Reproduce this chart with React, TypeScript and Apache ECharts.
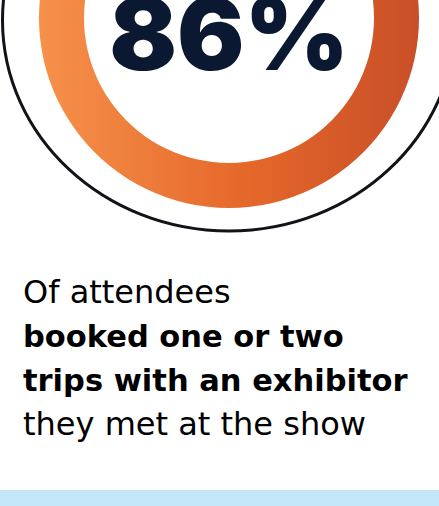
import React, { useEffect, useRef } from "react";
import * as echarts from "echarts";

const percentValue = [86];
const headline = ["86%"];
const captionLines = [
  "Of attendees",
  "booked one or two",
  "trips with an exhibitor",
  "they met at the show",
];
const captionBold = [false, true, true, false];

export default function App() {
  const ref = useRef<HTMLDivElement>(null);
  useEffect(() => {
    document.body.style.margin = "0";
    const chart = echarts.init(ref.current!, null, { renderer: "svg" });
    const v = percentValue[0];
    const baselines = [303, 347, 391, 435];
    chart.setOption({
      animation: false,
      backgroundColor: "#ffffff",
      series: [
        {
          type: "pie",
          center: [229, 18],
          radius: [145, 190],
          startAngle: 90 - ((100 - v) / 100) * 180,
          silent: true,
          label: { show: false },
          labelLine: { show: false },
          data: [
            {
              value: v,
              itemStyle: {
                color: {
                  type: "linear",
                  x: 39,
                  y: 0,
                  x2: 419,
                  y2: 0,
                  global: true,
                  colorStops: [
                    { offset: 0, color: "#F6914A" },
                    { offset: 0.55, color: "#E5672A" },
                    { offset: 1, color: "#C84F28" },
                  ],
                },
              },
            },
            { value: 100 - v, itemStyle: { color: "rgba(0,0,0,0)" } },
          ],
        },
      ],
      graphic: [
        {
          type: "ellipse",
          shape: { cx: 229, cy: 20, rx: 226.5, ry: 211 },
          style: { fill: "none", stroke: "#111318", lineWidth: 3 },
          silent: true,
        },
        {
          type: "text",
          x: 229,
          y: 33,
          style: {
            text: headline[0],
            font: "900 100px Inter",
            fill: "#0B1831",
            textAlign: "center",
            textVerticalAlign: "middle",
          },
        },
        ...captionLines.map((t, i) => ({
          type: "text",
          x: 23,
          y: baselines[i] - 11,
          style: {
            text: t,
            font: captionBold[i]
              ? "bold 30.5px 'DejaVu Sans'"
              : "normal 32px 'DejaVu Sans'",
            fill: "#000000",
            textAlign: "left",
            textVerticalAlign: "middle",
          },
        })),
        {
          type: "rect",
          shape: { x: 0, y: 490, width: 439, height: 16 },
          style: { fill: "#C4E6F9" },
          silent: true,
        },
      ],
    });
    return () => chart.dispose();
  }, []);
  return <div ref={ref} style={{ width: 439, height: 506 }} />;
}
